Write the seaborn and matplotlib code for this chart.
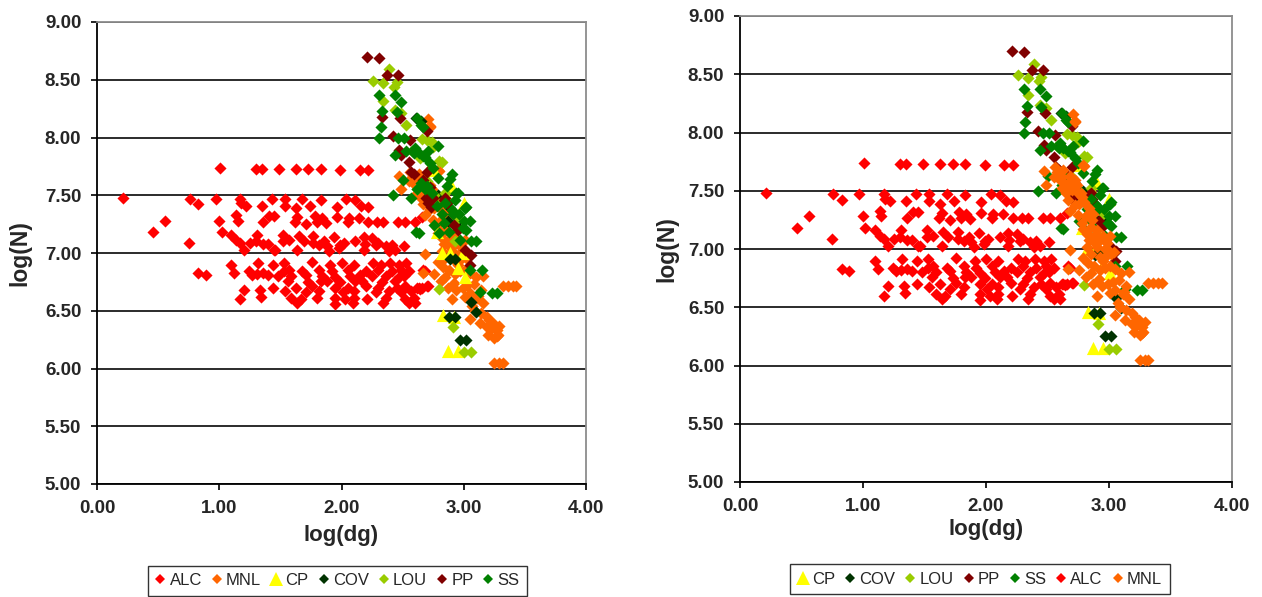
import matplotlib
matplotlib.use("Agg")
import matplotlib.pyplot as plt
from matplotlib.lines import Line2D
from matplotlib.ticker import MultipleLocator, FormatStrFormatter
import seaborn as sns
import pandas as pd

# ---------------------------------------------------------------- data
alc_dg = [
    0.21, 1.01, 1.30, 1.35, 0.76, 0.83, 0.97, 1.17, 1.18, 1.22, 1.35, 1.43,
    0.56, 0.46, 1.00, 1.14, 1.15, 1.36, 1.41, 1.45, 0.75, 1.02, 1.10, 1.14,
    1.17, 1.20, 1.25, 1.31, 1.30, 1.36, 1.40, 1.45, 0.83, 0.89, 1.10, 1.12,
    1.24, 1.27, 1.31, 1.36, 1.40, 1.32, 1.44, 1.20, 1.17, 1.33, 1.34, 1.44,
    1.49, 1.63, 1.73, 1.83, 1.99, 2.15, 2.22,
    1.54, 1.68, 1.83, 2.04, 2.11,
    1.54, 1.63, 1.74, 1.96, 2.16, 2.22,
    1.64, 1.78, 1.84, 1.96, 2.06, 2.14,
    1.62, 1.71, 1.80, 1.87, 2.05, 2.22, 2.29, 2.34, 2.46, 2.52,
    1.52, 1.65, 1.77, 1.94, 2.18, 2.25,
    1.52, 1.57, 1.69, 1.77, 1.86, 2.02, 2.11, 2.19, 2.30,
    1.82, 1.88, 1.99, 2.28, 2.36, 2.41, 2.51,
    1.46, 1.64, 1.90, 1.98, 2.18, 2.39, 2.44,
    1.53, 1.76, 1.91, 2.00, 2.10, 2.26, 2.32, 2.40, 2.47, 2.53,
    1.53, 1.57, 1.68, 1.82, 1.92, 2.05, 2.20, 2.30, 2.41, 2.49, 2.55, 2.68,
    1.48, 1.59, 1.71, 1.84, 1.95, 2.07, 2.15, 2.25, 2.36, 2.47, 2.51,
    1.56, 1.73, 1.83, 1.88, 1.99, 2.11, 2.17, 2.33, 2.44,
    1.63, 1.76, 1.95, 2.05, 2.20, 2.30, 2.45, 2.52, 2.63, 2.71,
    1.54, 1.71, 1.82, 2.01, 2.10, 2.28, 2.39, 2.49, 2.57,
    1.59, 1.67, 1.80, 1.95, 2.03, 2.10, 2.21, 2.36, 2.52, 2.59,
    1.64, 1.95, 2.09, 2.34, 2.55,
    2.60, 2.66, 2.67, 2.62, 2.66, 2.70, 2.60, 2.64,
]
alc_n = [
    7.48, 7.74, 7.73, 7.73, 7.47, 7.42, 7.47, 7.47, 7.43, 7.41, 7.41, 7.47,
    7.28, 7.18, 7.28, 7.33, 7.28, 7.27, 7.32, 7.32, 7.09, 7.18, 7.16, 7.11,
    7.09, 7.03, 7.09, 7.16, 7.10, 7.08, 7.08, 7.03, 6.83, 6.81, 6.90, 6.83,
    6.84, 6.81, 6.82, 6.83, 6.81, 6.91, 6.90, 6.68, 6.60, 6.68, 6.62, 6.70,
    7.73, 7.73, 7.73, 7.73, 7.72, 7.72, 7.72,
    7.47, 7.47, 7.46, 7.47, 7.46,
    7.41, 7.39, 7.41, 7.40, 7.41, 7.40,
    7.31, 7.32, 7.30, 7.31, 7.30, 7.30,
    7.27, 7.25, 7.27, 7.26, 7.27, 7.27, 7.27, 7.27, 7.27, 7.27,
    7.16, 7.15, 7.15, 7.14, 7.14, 7.13,
    7.10, 7.11, 7.10, 7.09, 7.10, 7.09, 7.10, 7.08, 7.09,
    7.07, 7.06, 7.07, 7.07, 7.06, 7.07, 7.06,
    7.03, 7.03, 7.02, 7.04, 7.03, 7.02, 7.03,
    6.91, 6.92, 6.90, 6.91, 6.90, 6.91, 6.90, 6.91, 6.90, 6.91,
    6.84, 6.85, 6.84, 6.85, 6.84, 6.85, 6.84, 6.85, 6.84, 6.85, 6.84, 6.84,
    6.80, 6.80, 6.81, 6.80, 6.79, 6.80, 6.81, 6.80, 6.80, 6.79, 6.80,
    6.76, 6.75, 6.76, 6.76, 6.75, 6.76, 6.76, 6.75, 6.76,
    6.70, 6.71, 6.70, 6.70, 6.71, 6.70, 6.70, 6.71, 6.70, 6.71,
    6.67, 6.66, 6.67, 6.66, 6.67, 6.66, 6.67, 6.66, 6.67,
    6.61, 6.60, 6.61, 6.61, 6.60, 6.61, 6.60, 6.61, 6.60, 6.61,
    6.57, 6.56, 6.57, 6.57, 6.57,
    7.27, 7.31, 6.85, 6.70, 6.70, 6.71, 6.57, 6.69,
]

mnl_dg = [
    2.71, 2.72, 2.72, 2.79, 2.63, 2.68, 2.72, 2.66, 2.62, 2.70, 2.75, 2.67,
    2.72, 2.76, 2.68, 2.75, 2.81, 2.86, 2.78, 2.85, 2.90, 2.82, 2.89, 2.95,
    3.01, 2.68, 2.82, 2.90, 2.98, 2.85, 2.93, 3.02, 2.76, 2.85, 2.93, 3.01,
    3.10, 2.81, 2.87, 2.94, 3.05, 3.14, 2.90, 3.01, 3.12, 3.09, 3.14, 3.19,
    3.05, 3.13, 3.19, 3.24, 3.27, 3.20, 3.27, 3.25, 3.25, 3.29, 3.32, 3.32,
    3.36, 3.40, 3.43, 2.47, 2.49, 2.56, 2.60, 2.65, 2.70, 2.77, 2.80, 2.55,
    2.58, 2.62, 2.69, 2.74, 2.78, 2.80, 2.84, 2.83, 2.87, 2.79, 2.84, 2.88,
    2.93, 2.97, 3.00, 3.04, 2.79, 2.83, 2.88, 2.97, 3.05, 3.08, 2.92, 2.99,
    3.03, 3.16, 3.16, 3.11, 3.07, 3.21, 3.29, 3.22, 3.28, 2.98, 2.95, 2.67,
]
mnl_n = [
    8.16, 8.10, 8.09, 7.72, 7.68, 7.63, 7.59, 7.56, 7.52, 7.51, 7.48, 7.42,
    7.38, 7.39, 7.33, 7.29, 7.28, 7.25, 7.22, 7.19, 7.16, 7.13, 7.12, 7.11,
    7.11, 6.99, 7.02, 7.02, 7.05, 6.96, 6.93, 6.96, 6.82, 6.79, 6.82, 6.85,
    6.79, 6.76, 6.70, 6.68, 6.65, 6.68, 6.60, 6.62, 6.63, 6.50, 6.48, 6.45,
    6.43, 6.39, 6.36, 6.39, 6.33, 6.29, 6.28, 6.26, 6.05, 6.05, 6.05, 6.71,
    6.71, 6.71, 6.71, 7.67, 7.55, 7.70, 7.59, 7.48, 7.55, 7.48, 7.71, 7.62,
    7.66, 7.62, 7.58, 7.55, 7.45, 7.40, 7.35, 7.30, 7.30, 7.17, 7.08, 7.06,
    7.08, 7.00, 6.98, 6.97, 6.92, 6.88, 6.85, 6.84, 6.83, 6.73, 6.74, 6.70,
    6.72, 6.80, 6.57, 6.61, 6.54, 6.42, 6.37, 6.34, 6.29, 6.95, 6.90, 6.83,
]

cp_dg = [2.72, 2.76, 2.85, 2.90, 3.00, 2.78, 2.82, 2.89, 2.99, 2.95, 3.01,
         2.83, 2.92, 2.87, 2.95]
cp_n = [7.75, 7.72, 7.52, 7.57, 7.43, 7.18, 7.00, 7.00, 7.00, 6.87, 6.79,
        6.46, 6.45, 6.15, 6.15]

cov_dg = [2.61, 2.65, 2.79, 2.89, 2.94, 2.95, 2.87, 2.89, 2.93, 2.88, 2.93,
          2.97, 3.02, 3.06, 3.10]
cov_n = [8.17, 8.14, 7.50, 7.39, 7.26, 7.22, 7.28, 6.95, 6.95, 6.45, 6.45,
         6.25, 6.25, 6.58, 6.49]

lou_dg = [2.26, 2.34, 2.39, 2.43, 2.45, 2.34, 2.44, 2.49, 2.53, 2.66, 2.70,
          2.74, 2.75, 2.80, 2.82, 2.80, 2.91, 3.00, 3.06, 2.93, 2.71, 2.62,
          2.85, 2.78, 2.95, 2.64, 2.58, 2.70, 2.76]
lou_n = [8.49, 8.47, 8.59, 8.44, 8.48, 8.32, 8.24, 8.21, 8.11, 7.99, 7.98,
         7.96, 7.92, 7.80, 7.79, 6.69, 6.36, 6.14, 6.14, 7.10, 7.58, 7.55,
         7.52, 7.44, 7.30, 7.82, 7.88, 7.62, 7.50]

pp_dg = [2.21, 2.31, 2.37, 2.46, 2.33, 2.48, 2.42, 2.56, 2.47, 2.49, 2.55,
         2.57, 2.59, 2.70, 2.67, 2.72, 2.75, 2.71, 2.85, 2.86, 2.70, 2.69,
         2.73, 2.92, 2.95, 3.01, 3.06, 3.05, 2.60, 2.84]
pp_n = [8.70, 8.69, 8.54, 8.54, 8.18, 8.17, 8.01, 7.98, 7.89, 7.85, 7.79,
        7.70, 7.68, 7.70, 7.63, 7.57, 7.48, 7.43, 7.48, 7.43, 8.06, 7.48,
        7.40, 7.24, 7.20, 7.03, 6.98, 6.90, 7.89, 7.46]

ss_dg = [2.31, 2.33, 2.32, 2.31, 2.44, 2.49, 2.45, 2.67, 2.46, 2.51, 2.44,
         2.42, 2.60, 2.63, 2.67, 2.79, 2.90, 2.89, 2.50, 2.65, 2.68, 2.70,
         2.94, 3.02, 2.62, 2.65, 2.71, 2.68, 2.62, 2.74, 2.79, 2.57, 2.78,
         2.82, 2.85, 2.93, 2.95, 2.96, 2.61, 3.01, 3.00, 3.05, 3.06, 3.10,
         3.05, 3.15, 3.13, 3.23, 3.27, 2.90, 2.91, 2.97, 3.02, 2.80, 2.88,
         2.76, 2.63, 2.99, 2.84, 2.72, 2.75, 2.86, 2.53, 2.59]
ss_n = [8.37, 8.23, 8.09, 8.00, 8.37, 8.31, 8.22, 8.09, 8.00, 8.00, 7.85,
        7.50, 7.91, 7.87, 7.84, 7.93, 7.68, 7.64, 7.63, 7.61, 7.55, 7.58,
        7.52, 7.40, 8.17, 8.11, 7.88, 7.83, 7.55, 7.52, 7.65, 7.48, 7.41,
        7.34, 7.43, 7.46, 7.52, 7.34, 7.18, 7.39, 7.28, 7.28, 7.10, 7.10,
        6.85, 6.85, 6.66, 6.65, 6.65, 7.37, 7.34, 7.11, 7.20, 7.17, 7.18,
        7.24, 7.17, 7.22, 7.26, 7.78, 7.74, 7.58, 7.88, 7.87]

series_names = ["ALC", "MNL", "CP", "COV", "LOU", "PP", "SS"]
series_colors = {
    "ALC": "#FF0000", "MNL": "#FF6600", "CP": "#FFFF00", "COV": "#003300",
    "LOU": "#99CC00", "PP": "#800000", "SS": "#008000",
}
series_data = {
    "ALC": (alc_dg, alc_n), "MNL": (mnl_dg, mnl_n), "CP": (cp_dg, cp_n),
    "COV": (cov_dg, cov_n), "LOU": (lou_dg, lou_n), "PP": (pp_dg, pp_n),
    "SS": (ss_dg, ss_n),
}
left_order = ["ALC", "MNL", "CP", "COV", "LOU", "PP", "SS"]
right_order = ["CP", "COV", "LOU", "PP", "SS", "ALC", "MNL"]

frame = pd.concat(
    [pd.DataFrame({"logdg": series_data[k][0], "logN": series_data[k][1], "site": k})
     for k in series_names],
    ignore_index=True,
)

# ---------------------------------------------------------------- style
sns.set_theme(style="white")
plt.rcParams["font.family"] = ["Liberation Sans", "DejaVu Sans"]

fig = plt.figure(figsize=(12.62, 5.97), dpi=100)
ax_left = fig.add_axes([97 / 1262, 1 - 484 / 597, 489 / 1262, 462 / 597])
ax_right = fig.add_axes([740 / 1262, 1 - 482 / 597, 492 / 1262, 466 / 597])


def marker_for(name):
    return "^" if name == "CP" else "D"


def size_for(name):
    return 90 if name == "CP" else 38


def draw_panel(ax, order, ylab_x, xlab_y):
    for name in order:
        sub = frame[frame["site"] == name]
        sns.scatterplot(data=sub, x="logdg", y="logN", ax=ax,
                        marker=marker_for(name), color=series_colors[name],
                        s=size_for(name), linewidth=0, legend=False,
                        zorder=3)
    ax.set_xlim(0, 4)
    ax.set_ylim(5, 9)
    ax.xaxis.set_major_locator(MultipleLocator(1.0))
    ax.yaxis.set_major_locator(MultipleLocator(0.5))
    ax.xaxis.set_major_formatter(FormatStrFormatter("%.2f"))
    ax.yaxis.set_major_formatter(FormatStrFormatter("%.2f"))
    ax.set_axisbelow(True)
    ax.yaxis.grid(True, color="#1a1a1a", linewidth=1.3)
    ax.xaxis.grid(False)
    for side in ("left", "bottom"):
        ax.spines[side].set_color("black")
        ax.spines[side].set_linewidth(1.3)
    for side in ("top", "right"):
        ax.spines[side].set_color("#8c8c8c")
        ax.spines[side].set_linewidth(1.3)
    ax.tick_params(axis="both", which="major", direction="out", length=4.3,
                   width=1.2, color="black", labelsize=13.5, pad=7,
                   left=True, bottom=True)
    for lab in ax.get_xticklabels() + ax.get_yticklabels():
        lab.set_fontweight("bold")
    ax.set_xlabel("log(dg)", fontsize=16, fontweight="bold", va="center")
    ax.set_ylabel("log(N)", fontsize=16.5, fontweight="bold", va="center")
    ax.yaxis.set_label_coords(ylab_x, 0.5)
    ax.xaxis.set_label_coords(0.5, xlab_y)


draw_panel(ax_left, left_order, -0.157, -0.112)
draw_panel(ax_right, right_order, -0.148, -0.103)


def legend_handles(order):
    handles = []
    for name in order:
        handles.append(Line2D([], [], linestyle="none", marker=marker_for(name),
                              markersize=9.5 if name == "CP" else 4.6,
                              markerfacecolor=series_colors[name],
                              markeredgewidth=0, label=name))
    return handles


for order, anchor in ((left_order, (337.5 / 1262, 1 - 580.5 / 597)),
                      (right_order, (980 / 1262, 1 - 579 / 597))):
    leg = fig.legend(handles=legend_handles(order), loc="center",
                     bbox_to_anchor=anchor, ncol=7, fontsize=12,
                     frameon=True, fancybox=False, edgecolor="black",
                     handlelength=0.6, handletextpad=0.25, columnspacing=0.6,
                     borderpad=0.45, borderaxespad=0)
    leg.get_frame().set_linewidth(1.0)

fig.savefig("out.png", dpi=100, facecolor="white")
